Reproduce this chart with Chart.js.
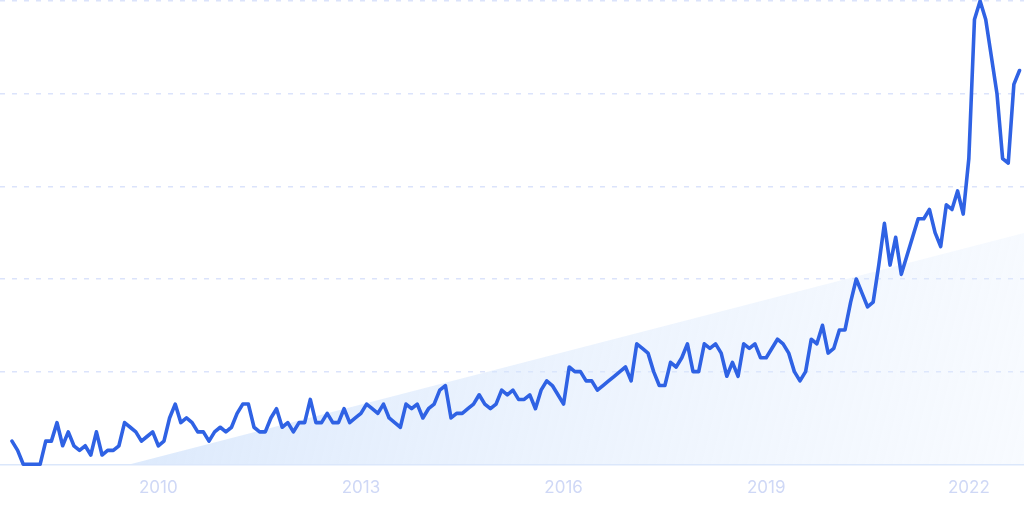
<!DOCTYPE html>
<html>
<head>
<meta charset="utf-8">
<script src="https://cdn.jsdelivr.net/npm/chart.js@4.4.0/dist/chart.umd.min.js"></script>
<style>
  html, body { margin: 0; padding: 0; background: #fff; }
  #wrap { width: 1024px; height: 511px; position: relative; }
</style>
</head>
<body>
<div id="wrap"><canvas id="trend"></canvas></div>
<script>
// monthly search interest, Nov 2007 .. Oct 2022 (0-100)
const values = [
  5, 3, 0, 0, 0, 0, 5, 5, 9, 4, 7, 4, 3, 4, 2, 7, 2, 3, 3, 4,
  9, 8, 7, 5, 6, 7, 4, 5, 10, 13, 9, 10, 9, 7, 7, 5, 7, 8, 7, 8,
  11, 13, 13, 8, 7, 7, 10, 12, 8, 9, 7, 9, 9, 14, 9, 9, 11, 9, 9, 12,
  9, 10, 11, 13, 12, 11, 13, 10, 9, 8, 13, 12, 13, 10, 12, 13, 16, 17, 10, 11,
  11, 12, 13, 15, 13, 12, 13, 16, 15, 16, 14, 14, 15, 12, 16, 18, 17, 15, 13, 21,
  20, 20, 18, 18, 16, 17, 18, 19, 20, 21, 18, 26, 25, 24, 20, 17, 17, 22, 21, 23,
  26, 20, 20, 26, 25, 26, 24, 19, 22, 19, 26, 25, 26, 23, 23, 25, 27, 26, 24, 20,
  18, 20, 27, 26, 30, 24, 25, 29, 29, 35, 40, 37, 34, 35, 43, 52, 43, 49, 41, 45,
  49, 53, 53, 55, 50, 47, 56, 55, 59, 54, 66, 96, 100, 96, 88, 80, 66, 65, 82, 85
];
// index of January for the labelled years
const yearTicks = [26, 62, 98, 134, 170];
const yearLabels = ['2010', '2013', '2016', '2019', '2022'];
// straight trend area: [index, value]
const trendStart = [21, 0];
const trendEnd = [180, 50];

const points = values.map((v, i) => ({ x: i, y: v }));

const ctx = document.getElementById('trend');

new Chart(ctx, {
  type: 'line',
  data: {
    datasets: [
      {
        data: points,
        borderColor: '#2f62e4',
        borderWidth: 3.6,
        borderJoinStyle: 'round',
        borderCapStyle: 'round',
        pointRadius: 0,
        tension: 0,
        fill: false,
        order: 1,
        clip: 4
      },
      {
        data: [
          { x: trendStart[0], y: trendStart[1] },
          { x: trendEnd[0], y: trendEnd[1] }
        ],
        borderWidth: 0,
        borderColor: 'rgba(0,0,0,0)',
        pointRadius: 0,
        fill: 'origin',
        order: 2,
        backgroundColor: (c) => {
          const area = c.chart.chartArea;
          if (!area) return 'rgba(220,234,252,0.5)';
          const g = c.chart.ctx.createLinearGradient(area.left + 150, area.top + 250, area.right, area.bottom);
          g.addColorStop(0, 'rgba(205,224,251,0.7)');
          g.addColorStop(1, 'rgba(230,240,254,0.3)');
          return g;
        }
      }
    ]
  },
  options: {
    responsive: true,
    maintainAspectRatio: false,
    animation: false,
    layout: { padding: { top: 1, bottom: 0, left: 0, right: 0 } },
    plugins: { legend: { display: false }, tooltip: { enabled: false } },
    scales: {
      x: {
        type: 'linear',
        min: -2.13,
        max: 179.8,
        afterBuildTicks: (scale) => {
          scale.ticks = yearTicks.map(v => ({ value: v }));
        },
        grid: { display: false, drawTicks: false },
        border: { display: true, color: '#dbe7fb', width: 1.5 },
        ticks: {
          autoSkip: false,
          maxRotation: 0,
          padding: 14,
          color: '#cfd8f6',
          font: { family: 'Inter', size: 17, lineHeight: 1.1 },
          callback: (v) => yearLabels[yearTicks.indexOf(v)]
        }
      },
      y: {
        min: 0,
        max: 100,
        ticks: { display: false, stepSize: 20 },
        border: { display: false, dash: [5, 7] },
        grid: {
          drawTicks: false,
          lineWidth: 1.5,
          color: (c) => c.tick && c.tick.value === 0 ? 'rgba(0,0,0,0)' : 'rgba(190,204,248,0.55)'
        }
      }
    }
  }
});
</script>
</body>
</html>
